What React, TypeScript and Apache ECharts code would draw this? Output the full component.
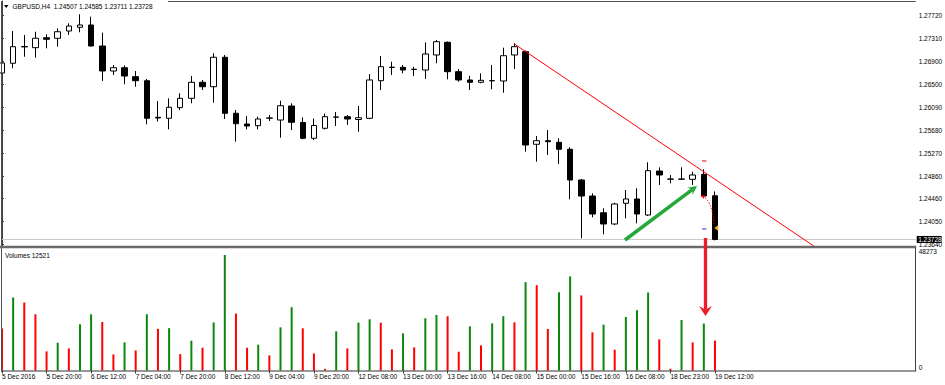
import React, { useEffect, useRef } from 'react';
import * as echarts from 'echarts';

// ---------- data ----------
const SYMBOL = 'GBPUSD';
const TIMEFRAME = 'H4';

const opens = [
  1.26698, 1.26871, 1.2717, 1.27149, 1.27327, 1.27317, 1.27447, 1.27513, 1.27554, 1.27179,
  1.26733, 1.26792, 1.26632, 1.2656, 1.25907, 1.2589, 1.26079, 1.26246, 1.26532, 1.26453,
  1.26978, 1.25979, 1.25788, 1.25758, 1.25891, 1.25859, 1.26109, 1.25815, 1.25533, 1.25711,
  1.25909, 1.25918, 1.25868, 1.2589, 1.2656, 1.26796, 1.26799, 1.2676, 1.26751, 1.27019,
  1.27245, 1.26721, 1.26573, 1.26532, 1.26559, 1.26555, 1.27019, 1.27078, 1.25426, 1.2549,
  1.25461, 1.25337, 1.24789, 1.24503, 1.24205, 1.24004, 1.24373, 1.2445, 1.24164, 1.24949,
  1.24803, 1.24803, 1.24801, 1.2489, 1.24507,
];
const closes = [
  1.26876, 1.27167, 1.27163, 1.27317, 1.27299, 1.27434, 1.27536, 1.27554, 1.27179, 1.26733,
  1.26792, 1.26644, 1.2656, 1.2589, 1.25895, 1.26086, 1.26246, 1.26532, 1.26453, 1.26978,
  1.25979, 1.25793, 1.25752, 1.25877, 1.25895, 1.26114, 1.25818, 1.25533, 1.25761, 1.25918,
  1.25913, 1.25877, 1.259, 1.26573, 1.2681, 1.26801, 1.26751, 1.26765, 1.27037, 1.27256,
  1.26721, 1.26573, 1.26532, 1.26567, 1.26562, 1.27006, 1.27167, 1.25413, 1.2549, 1.25472,
  1.25337, 1.24789, 1.24503, 1.24182, 1.24004, 1.24361, 1.2445, 1.24182, 1.24955, 1.24878,
  1.24807, 1.24807, 1.24878, 1.24503, 1.23728,
];
const highs = [
  1.26983, 1.27447, 1.27376, 1.27434, 1.27388, 1.27495, 1.27584, 1.27745, 1.27702, 1.27417,
  1.2684, 1.26835, 1.26733, 1.26591, 1.26198, 1.26246, 1.26336, 1.26644, 1.26573, 1.27049,
  1.27019, 1.26038, 1.25931, 1.25918, 1.25948, 1.26204, 1.26157, 1.25907, 1.25886, 1.25975,
  1.26002, 1.25948, 1.26109, 1.2668, 1.27001, 1.26899, 1.2684, 1.2681, 1.27245, 1.27286,
  1.2726, 1.26769, 1.26644, 1.26692, 1.2684, 1.27149, 1.27228, 1.27099, 1.25574, 1.25681,
  1.25533, 1.25372, 1.24807, 1.24552, 1.24284, 1.24384, 1.2461, 1.24641, 1.25105, 1.25015,
  1.24878, 1.25015, 1.24937, 1.2498, 1.24585,
];
const lows = [
  1.26662, 1.26782, 1.26988, 1.26971, 1.27138, 1.27167, 1.27376, 1.27424, 1.2717, 1.26555,
  1.26662, 1.26496, 1.26453, 1.25782, 1.25832, 1.25693, 1.26038, 1.26157, 1.26394, 1.26168,
  1.25877, 1.25472, 1.25693, 1.25693, 1.25841, 1.25543, 1.25681, 1.25515, 1.25502, 1.2569,
  1.25752, 1.2577, 1.25651, 1.25877, 1.26394, 1.26662, 1.26692, 1.26644, 1.26591, 1.26871,
  1.26585, 1.26542, 1.26394, 1.26514, 1.26407, 1.26346, 1.26769, 1.25294, 1.25115, 1.25235,
  1.25074, 1.24444, 1.23749, 1.24123, 1.2382, 1.23986, 1.24106, 1.24016, 1.24147, 1.247,
  1.2473, 1.24789, 1.247, 1.24491, 1.23711,
];
const volumes = [
  17505, 30519, 28420, 23509, 7976, 11628, 9236, 19311, 23480, 20276,
  6717, 11754, 8396, 23540, 17400, 17700, 6843, 12468, 9529, 20060,
  48273, 23803, 9510, 10789, 6297, 18051, 26447, 17632, 7137, 714,
  16372, 9236, 20024, 21410, 19990, 8816, 15533, 9655, 21830, 23215,
  22669, 7850, 18471, 10495, 19731, 22700, 20150, 36942, 35683, 17338,
  32744, 39335, 31359, 15952, 19185, 8690, 22375, 25188, 32618, 13014,
  720, 21116, 11754, 19605, 12521,
];
const timeTickLabels = [
  '5 Dec 2016', '5 Dec 20:00', '6 Dec 12:00', '7 Dec 04:00', '7 Dec 20:00', '8 Dec 12:00',
  '9 Dec 04:00', '9 Dec 20:00', '12 Dec 08:00', '13 Dec 00:00', '13 Dec 16:00', '14 Dec 08:00',
  '15 Dec 00:00', '15 Dec 16:00', '16 Dec 08:00', '18 Dec 23:00', '19 Dec 12:00',
];
const TICK_EVERY = 4;
const priceTicks = [1.2772, 1.2731, 1.269, 1.265, 1.2609, 1.2568, 1.2527, 1.2486, 1.2446, 1.2405, 1.2364];
const volumeTicks = [0, 48273];

// annotations, in [bar index, price] (red arrow tip in volume units)
const trendLine = [[46, 1.27215], [80, 1.22655]];
const greenArrow = [[55.92, 1.23718], [62.39, 1.24682]];
const redArrowStart = [63.15, 1.23754];
const redArrowTipVolume = 22778;
const dottedArrow = [[62.72, 1.24512], [63.95, 1.23986]];
const stopMarks = [[63.04, 1.25128, '#e00000'], [63.04, 1.23915, '#2030e0']];
const entryMarker = [64.12, 1.23932];

// ---------- layout ----------
const W = 945;
const H = 385;
const SLOTS = 83;
const BAND = 11.14;
const GRID_LEFT = -3.57;
const GRID_W = SLOTS * BAND;
const AXIS_X = 915.7;
const Y_OFFSET = AXIS_X - (GRID_LEFT + GRID_W);
const MAIN_TOP = 1;
const MAIN_BOTTOM = 246;
const VOL_TOP = 248;
const VOL_BOTTOM = 370.5;
const PRICE_MIN = 1.236114;
const PRICE_MAX = 1.27982;
const VOL_MAX = 51199;
const FONT = '"Liberation Sans", Arial, sans-serif';
const FS = 6.5;
const GREEN = '#0b870b';
const RED = '#ff0000';
const FRAME = '#404040';

function arrowShapes(s: number[], t: number[], color: string, shaftW: number, headLen: number, headW: number) {
  const dx = t[0] - s[0];
  const dy = t[1] - s[1];
  const len = Math.sqrt(dx * dx + dy * dy);
  const ux = dx / len;
  const uy = dy / len;
  const px = -uy;
  const py = ux;
  const baseX = t[0] - ux * headLen;
  const baseY = t[1] - uy * headLen;
  const notchX = t[0] - ux * headLen * 0.62;
  const notchY = t[1] - uy * headLen * 0.62;
  return [
    {
      type: 'line', z: 100,
      shape: { x1: s[0], y1: s[1], x2: notchX, y2: notchY },
      style: { stroke: color, lineWidth: shaftW },
    },
    {
      type: 'polygon', z: 101,
      shape: {
        points: [
          [t[0], t[1]],
          [baseX + (px * headW) / 2, baseY + (py * headW) / 2],
          [notchX, notchY],
          [baseX - (px * headW) / 2, baseY - (py * headW) / 2],
        ],
      },
      style: { fill: color },
    },
  ];
}

function txt(text: string, x: number, y: number, fill: string, align = 'left') {
  return {
    type: 'text', z: 110, x, y,
    style: {
      text, fill, fontSize: FS, fontFamily: FONT,
      align, verticalAlign: 'middle', textAlign: align, textVerticalAlign: 'middle',
    },
  };
}

export default function App() {
  const ref = useRef<HTMLDivElement>(null);

  useEffect(() => {
    document.body.style.margin = '0';
    const chart = echarts.init(ref.current as HTMLDivElement, null, { renderer: 'svg', width: W, height: H });
    const n = opens.length;
    const categories = Array.from({ length: SLOTS }, (_, i) =>
      i < n && i % TICK_EVERY === 0 ? timeTickLabels[i / TICK_EVERY] : ''
    );
    const tickFilter = (index: number) => index < n && index % TICK_EVERY === 0;
    const candleData = opens.map((o, i) => [o, closes[i], lows[i], highs[i]]);
    const volumeData = volumes.map((v, i) => ({
      value: v,
      itemStyle: { color: i > 0 && v > volumes[i - 1] ? GREEN : RED },
    }));

    chart.setOption({
      animation: false,
      backgroundColor: '#ffffff',
      grid: [
        { left: GRID_LEFT, top: MAIN_TOP, width: GRID_W, height: MAIN_BOTTOM - MAIN_TOP, containLabel: false, outerBoundsMode: 'none' },
        { left: GRID_LEFT, top: VOL_TOP, width: GRID_W, height: VOL_BOTTOM - VOL_TOP, containLabel: false, outerBoundsMode: 'none' },
      ],
      xAxis: [
        { type: 'category', gridIndex: 0, data: categories, boundaryGap: true, show: false },
        {
          type: 'category', gridIndex: 1, data: categories, boundaryGap: true,
          axisLine: { show: false },
          axisTick: { show: true, alignWithLabel: true, interval: tickFilter, length: 3, lineStyle: { color: FRAME } },
          axisLabel: { interval: tickFilter, align: 'left', margin: 2.5, fontSize: FS, fontFamily: FONT, color: '#000' },
          splitLine: { show: false },
        },
        { type: 'value', gridIndex: 0, min: -0.5, max: SLOTS - 0.5, show: false },
      ],
      yAxis: [
        {
          type: 'value', gridIndex: 0, position: 'right', offset: Y_OFFSET, min: PRICE_MIN, max: PRICE_MAX,
          axisLine: { show: true, lineStyle: { color: FRAME, width: 1 } },
          axisTick: { show: true, customValues: priceTicks, length: 2, lineStyle: { color: FRAME } },
          axisLabel: {
            customValues: priceTicks, formatter: (v: number) => v.toFixed(5),
            fontSize: FS, fontFamily: FONT, color: '#000', margin: 3,
          },
          splitLine: { show: false },
        },
        {
          type: 'value', gridIndex: 1, position: 'right', offset: Y_OFFSET, min: 0, max: VOL_MAX,
          axisLine: { show: true, lineStyle: { color: FRAME, width: 1 } },
          axisTick: { show: false },
          axisLabel: {
            customValues: volumeTicks, formatter: (v: number) => String(v),
            fontSize: FS, fontFamily: FONT, color: '#000', margin: 3, verticalAlign: 'bottom',
          },
          splitLine: { show: false },
        },
      ],
      series: [
        {
          type: 'candlestick', xAxisIndex: 0, yAxisIndex: 0, data: candleData, barWidth: 6,
          itemStyle: {
            color: '#ffffff', color0: '#000000', borderColor: '#000000', borderColor0: '#000000',
            borderColorDoji: '#000000', borderWidth: 1,
          },
          z: 3,
        },
        {
          type: 'line', xAxisIndex: 2, yAxisIndex: 0, data: trendLine, symbol: 'none', silent: true,
          lineStyle: { color: '#ff0000', width: 1 }, clip: true, z: 5,
        },
        {
          type: 'bar', xAxisIndex: 1, yAxisIndex: 1, data: volumeData, barWidth: 2, silent: true,
        },
      ],
    });

    const pt = (x: number, p: number) => chart.convertToPixel({ xAxisIndex: 2, yAxisIndex: 0 }, [x, p]) as number[];
    const volY = (v: number) => chart.convertToPixel({ yAxisIndex: 1 }, v) as number;

    const last = n - 1;
    const lastY = pt(last, closes[last])[1];
    const title = `${SYMBOL},${TIMEFRAME}  ${opens[last].toFixed(5)} ${highs[last].toFixed(5)} ${lows[last].toFixed(5)} ${closes[last].toFixed(5)}`;

    const gS = pt(greenArrow[0][0], greenArrow[0][1]);
    const gT = pt(greenArrow[1][0], greenArrow[1][1]);
    const rS = pt(redArrowStart[0], redArrowStart[1]);
    const rT = [rS[0], volY(redArrowTipVolume)];
    const dS = pt(dottedArrow[0][0], dottedArrow[0][1]);
    const dE = pt(dottedArrow[1][0], dottedArrow[1][1]);
    const dC = [dE[0] - 2.5, dS[1] + 4.5];
    const dux = dS[0] - dC[0];
    const duy = dS[1] - dC[1];
    const dl = Math.sqrt(dux * dux + duy * duy);
    const ax = dux / dl;
    const ay = duy / dl;
    const em = pt(entryMarker[0], entryMarker[1]);

    const graphics: any[] = [
      // bid line
      { type: 'line', z: 1, shape: { x1: 1.5, y1: lastY, x2: AXIS_X, y2: lastY }, style: { stroke: '#c8c8c8', lineWidth: 1 } },
      // frame
      { type: 'line', z: 90, shape: { x1: 1.5, y1: 1, x2: 1.5, y2: 371.5 }, style: { stroke: '#505050', lineWidth: 1 } },
      { type: 'line', z: 90, shape: { x1: 168, y1: 1.5, x2: AXIS_X, y2: 1.5 }, style: { stroke: '#505050', lineWidth: 1 } },
      { type: 'rect', z: 90, shape: { x: 0, y: MAIN_BOTTOM - 0.2, width: AXIS_X + 0.5, height: 2.4 }, style: { fill: '#6a6a6a' } },
      { type: 'line', z: 90, shape: { x1: 1, y1: 371, x2: AXIS_X + 0.5, y2: 371 }, style: { stroke: '#303030', lineWidth: 1 } },
      // title
      { type: 'polygon', z: 110, shape: { points: [[4, 5], [8.5, 5], [6.25, 8]] }, style: { fill: '#000' } },
      txt(title, 12.5, 6.8, '#000'),
      txt(`Volumes ${volumes[last]}`, 5, 255.5, '#000'),
      // current price box
      { type: 'rect', z: 108, shape: { x: AXIS_X + 1, y: lastY - 3.5, width: 25, height: 7 }, style: { fill: '#000' } },
      txt(closes[last].toFixed(5), AXIS_X + 2.5, lastY, '#ffffff'),
      // stop / take marks
      ...stopMarks.map((m) => {
        const p = pt(m[0] as number, m[1] as number);
        return { type: 'line', z: 100, shape: { x1: p[0] - 2.2, y1: p[1], x2: p[0] + 2.2, y2: p[1] }, style: { stroke: m[2] as string, lineWidth: 1 } };
      }),
      // dotted arrow
      {
        type: 'bezierCurve', z: 100,
        shape: { x1: dS[0] + ax * -2, y1: dS[1] + ay * -2, x2: dE[0], y2: dE[1], cpx1: dC[0], cpy1: dC[1] },
        style: { stroke: '#ff0000', lineWidth: 1, lineDash: [1.5, 1.5], fill: 'none' },
      },
      {
        type: 'polygon', z: 101,
        shape: {
          points: [
            [dS[0], dS[1]],
            [dS[0] - ax * 4 - ay * 2, dS[1] - ay * 4 + ax * 2],
            [dS[0] - ax * 4 + ay * 2, dS[1] - ay * 4 - ax * 2],
          ],
        },
        style: { fill: '#ff0000' },
      },
      {
        type: 'polygon', z: 101,
        shape: { points: [[em[0] - 2, em[1]], [em[0] + 2, em[1] - 3], [em[0] + 2, em[1] + 3]] },
        style: { fill: '#f2a223' },
      },
      ...arrowShapes(gS, gT, '#25a83a', 3.5, 9, 9),
      ...arrowShapes(rS, rT, '#ee1c24', 3.3, 10, 13),
    ];

    chart.setOption({ graphic: graphics });

    return () => {
      chart.dispose();
    };
  }, []);

  return <div ref={ref} style={{ width: W, height: H }} />;
}
